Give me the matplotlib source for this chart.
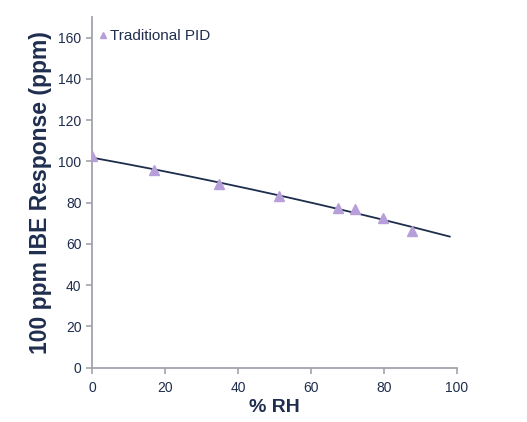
import matplotlib
matplotlib.use('Agg')
import matplotlib.pyplot as plt
import numpy as np

plt.rcParams['font.family'] = ['Liberation Sans', 'DejaVu Sans']

rh = [0, 17.0, 34.8, 51.3, 67.3, 72.0, 79.8, 87.7]
response = [102.5, 95.6, 88.8, 83.0, 77.5, 76.7, 72.7, 66.2]
x_ticks = [0, 20, 40, 60, 80, 100]
y_ticks = [0, 20, 40, 60, 80, 100, 120, 140, 160]

tekst = '#1F2D4E'
szary = '#A3A3AC'

fig = plt.figure(figsize=(5.27, 4.22), dpi=100)
ax = fig.add_axes([0.1746, 0.129, 0.6926, 0.8307])

# linia trendu (wielomian 2 stopnia, jak w Excelu)
wsp = np.polyfit(rh, response, 2)
xx = np.linspace(0, 98, 200)
ax.plot(xx, np.polyval(wsp, xx), color='#1C2E4C', lw=1.3, zorder=2)

ax.plot(rh, response, linestyle='none', marker='^', ms=7, color='#B79FD9',
        mec='#B79FD9', label='Traditional PID', zorder=3)

ax.set_xlim(0, 100)
ax.set_ylim(0, 170)
ax.set_xticks(x_ticks)
ax.set_yticks(y_ticks)

for s in ['top', 'right']:
    ax.spines[s].set_visible(False)
for s in ['left', 'bottom']:
    ax.spines[s].set_color(szary)
    ax.spines[s].set_linewidth(1.3)
ax.tick_params(colors=szary, labelcolor=tekst, labelsize=10, length=4, width=1.2)
ax.tick_params(axis='x', pad=5.5)

ax.set_xlabel('% RH', fontsize=14, fontweight='bold', color=tekst, labelpad=3)
ax.set_ylabel('100 ppm IBE Response (ppm)', fontsize=16.5, fontweight='bold',
              color=tekst, labelpad=4.5)

leg = ax.legend(loc='upper left', bbox_to_anchor=(0, 0.985), frameon=False,
                fontsize=11, handletextpad=0.25, handlelength=0.5,
                borderaxespad=0.05, markerscale=0.65)
for t in leg.get_texts():
    t.set_color(tekst)

fig.savefig('out.png', dpi=100)
